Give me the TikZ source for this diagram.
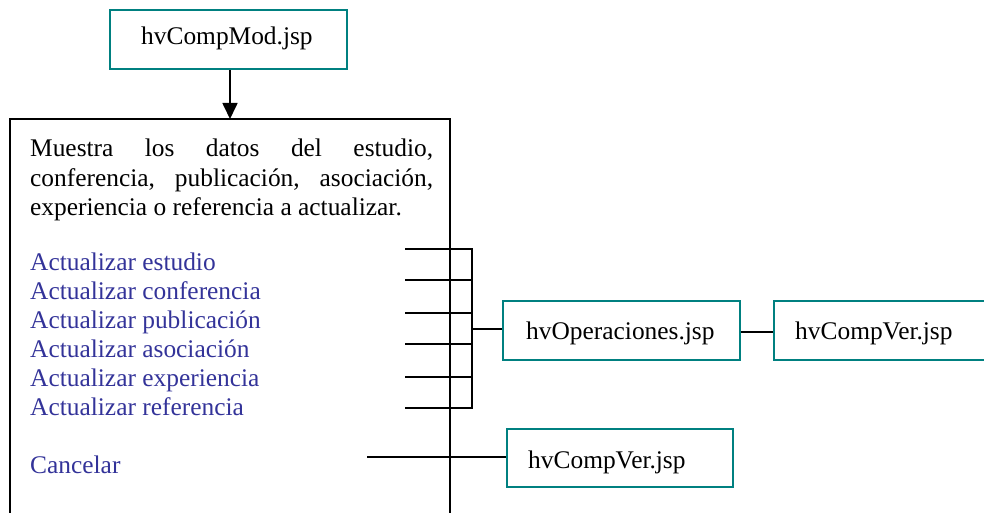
\documentclass[tikz,border=0pt]{standalone}
\usepackage{fontspec}
\setmainfont{Liberation Serif}
\usetikzlibrary{arrows.meta}
\definecolor{tealc}{RGB}{0,128,128}
\definecolor{linkc}{RGB}{51,51,153}
\begin{document}
\begin{tikzpicture}[x=1pt,y=-1pt,
  font=\fontsize{25.4}{29}\selectfont,
  page/.style={draw=tealc, line width=1.6pt, rectangle, inner sep=0pt},
  link/.style={text=linkc, anchor=base west, inner sep=0pt},
  txt/.style={anchor=base west, inner sep=0pt},
  wire/.style={line width=1.7pt, black}]
\useasboundingbox (0,0) rectangle (984,513);
% boxes
\node[page, minimum width=237pt, minimum height=59pt] (mod) at (228.5,39.5) {};
\node[txt] (modt) at (141,45) {hvCompMod.jsp};
\node[page, minimum width=237pt, minimum height=59pt] (ops) at (621.5,330.5) {};
\node[txt] (opst) at (526,339) {hvOperaciones.jsp};
\node[page, minimum width=211pt, minimum height=59pt] (ver1) at (879.5,330.5) {};
\node[txt] (ver1t) at (795,339) {hvCompVer.jsp};
\node[page, minimum width=226pt, minimum height=58pt] (ver2) at (620,458) {};
\node[txt] (ver2t) at (528,468) {hvCompVer.jsp};
% main frame
\draw[wire] (10,513) -- (10,119) -- (450,119) -- (450,513);
\coordinate (mainTop) at (230,119);
\draw[line width=1.7pt, -{Triangle[width=15pt,length=16pt]}] (mod.south -| mainTop) -- (mainTop);
% description
\node[txt] (d1) at (30,157) {\makebox[403pt][s]{Muestra los datos del estudio,}};
\node[txt] (d2) at (30,186) {\makebox[403pt][s]{conferencia, publicación, asociación,}};
\node[txt] (d3) at (30,215) {experiencia o referencia a actualizar.};
% links
\node[link] (l1) at (30,270) {Actualizar estudio};
\node[link] (l2) at (30,299) {Actualizar conferencia};
\node[link] (l3) at (30,328) {Actualizar publicación};
\node[link] (l4) at (30,357) {Actualizar asociación};
\node[link] (l5) at (30,386) {Actualizar experiencia};
\node[link] (l6) at (30,415) {Actualizar referencia};
\node[link] (l7) at (30,473) {Cancelar};
% bracket
\coordinate (bt) at (472,248);
\coordinate (bb) at (472,409);
\coordinate (bm) at (472,329);
\foreach \y/\n in {249/1,280/2,313/3,344/4,377/5,408/6}{
  \coordinate (s\n) at (405,\y);
  \coordinate (e\n) at (472,\y);
  \draw[wire] (s\n) -- (e\n);
}
\draw[wire] (bt) -- (bb);
\draw[wire] (bm) -- (ops.west |- bm);
\draw[wire] (ops.east |- 0,332) -- (ver1.west |- 0,332);
\coordinate (cs) at (367,457);
\draw[wire] (cs) -- (ver2.west |- cs);
\end{tikzpicture}
\end{document}
